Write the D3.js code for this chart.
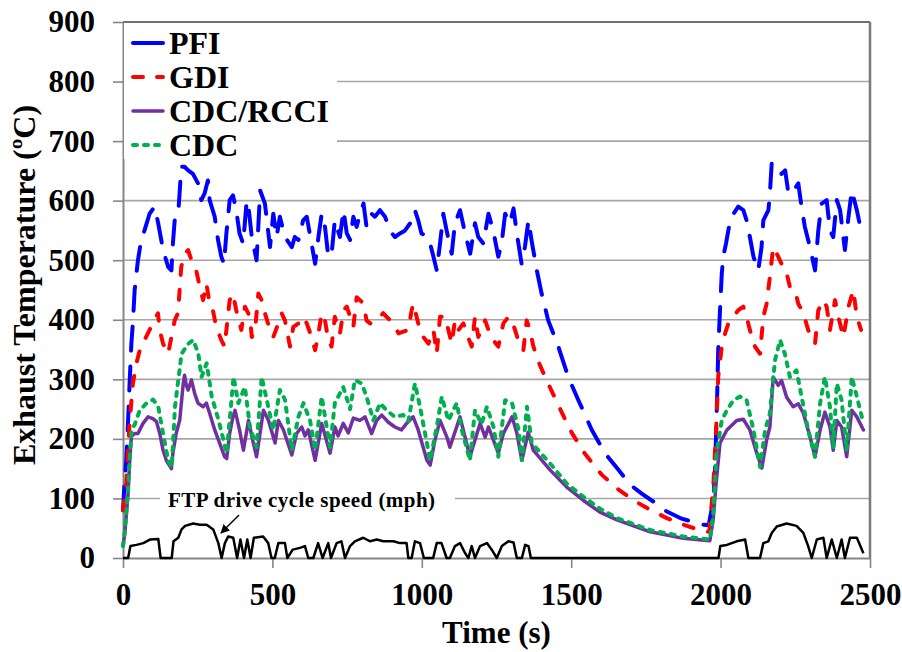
<!DOCTYPE html>
<html>
<head>
<meta charset="utf-8">
<script src="https://cdn.jsdelivr.net/npm/d3@7/dist/d3.min.js"></script>
<style>
  body { margin: 0; background: #fff; }
</style>
</head>
<body>
<div id="chart"></div>
<script>
// Axis ticks
const timeTicks = [0, 500, 1000, 1500, 2000, 2500];
const tempTicks = [0, 100, 200, 300, 400, 500, 600, 700, 800, 900];

// Legend order (= drawing order)
const seriesNames = ["PFI", "GDI", "CDC/RCCI", "CDC"];

// [time s, exhaust temperature °C]
const pfi = [[0,80],[5,125],[11,165],[17,230],[22,293],[28,360],[33,394],[39,450],[50,500],[61,534],[72,550],[89,578],[106,590],[117,564],[128,534],[134,517],[151,489],[162,483],[167,528],[173,567],[184,573],[190,617],[195,657],[206,657],[218,651],[234,645],[251,629],[262,601],[273,612],[284,634],[290,601],[307,573],[318,534],[329,506],[338,494],[346,545],[357,601],[368,609],[379,584],[390,545],[402,528],[414,600],[420,589],[431,539],[447,500],[459,617],[475,595],[492,522],[503,578],[514,539],[525,573],[542,539],[565,522],[575,539],[587,534],[603,567],[615,573],[631,528],[643,494],[654,539],[665,578],[676,556],[687,506],[698,510],[709,567],[726,539],[738,584],[749,545],[760,534],[771,573],[782,556],[793,578],[805,595],[815,556],[832,578],[843,573],[860,584],[877,573],[893,550],[910,539],[927,545],[944,550],[961,562],[977,584],[988,567],[999,545],[1022,539],[1039,506],[1050,483],[1061,528],[1072,578],[1083,550],[1100,511],[1111,562],[1128,584],[1145,545],[1162,511],[1178,562],[1189,539],[1206,528],[1223,578],[1239,550],[1256,506],[1267,528],[1279,578],[1295,562],[1307,587],[1318,545],[1334,494],[1345,522],[1357,567],[1367,534],[1385,483],[1401,444],[1423,399],[1457,355],[1490,304],[1524,265],[1569,215],[1613,176],[1658,148],[1700,122],[1736,108],[1780,93],[1820,78],[1870,66],[1940,56],[1960,55],[1976,97],[1981,148],[1985,209],[1989,282],[1992,349],[1998,416],[2004,478],[2009,506],[2018,528],[2032,567],[2043,578],[2059,590],[2076,584],[2087,567],[2098,539],[2110,506],[2126,483],[2137,522],[2143,567],[2160,584],[2165,612],[2171,662],[2188,662],[2204,645],[2216,651],[2227,612],[2238,612],[2260,629],[2271,589],[2282,556],[2299,522],[2316,483],[2327,550],[2338,595],[2355,601],[2366,550],[2377,539],[2389,601],[2400,584],[2416,517],[2428,573],[2439,617],[2456,584],[2472,545]];

const gdi = [[0,80],[11,125],[22,226],[33,293],[45,327],[56,349],[72,366],[89,383],[106,399],[117,411],[123,383],[134,360],[151,343],[162,371],[173,399],[184,411],[195,489],[206,511],[218,517],[229,500],[245,483],[257,455],[268,433],[279,461],[290,427],[301,416],[312,388],[329,366],[340,355],[357,433],[368,444],[379,416],[396,383],[408,422],[425,405],[431,371],[442,383],[453,444],[464,433],[475,411],[492,383],[503,371],[520,394],[531,411],[542,399],[559,355],[570,388],[587,394],[603,405],[615,394],[631,371],[643,349],[654,377],[665,411],[676,399],[687,366],[698,355],[709,405],[726,377],[738,416],[749,422],[760,405],[771,388],[782,438],[793,433],[805,427],[815,399],[827,394],[849,399],[871,411],[882,405],[905,394],[922,377],[938,380],[955,383],[966,416],[972,427],[988,394],[1005,371],[1022,360],[1039,383],[1050,343],[1061,405],[1078,405],[1089,383],[1100,360],[1111,399],[1123,383],[1139,394],[1150,377],[1167,355],[1178,405],[1189,371],[1212,399],[1223,383],[1239,366],[1256,355],[1273,394],[1290,405],[1301,399],[1312,383],[1329,355],[1340,349],[1351,399],[1362,383],[1373,356],[1390,330],[1412,305],[1435,280],[1468,245],[1502,210],[1546,175],[1602,140],[1653,117],[1708,97],[1764,81],[1820,67],[1875,56],[1941,45],[1962,44],[1976,125],[1987,237],[1992,304],[2004,355],[2015,377],[2026,394],[2043,405],[2059,416],[2076,422],[2087,405],[2098,383],[2115,355],[2132,343],[2143,405],[2154,427],[2165,472],[2176,522],[2188,511],[2204,494],[2216,489],[2232,455],[2249,450],[2260,427],[2277,411],[2293,383],[2316,360],[2327,416],[2344,433],[2355,422],[2366,383],[2383,433],[2394,405],[2411,371],[2428,422],[2444,450],[2456,405],[2470,383]];

const cdcRcci = [[0,20],[6,41],[17,108],[22,159],[28,204],[39,209],[50,209],[67,226],[84,237],[100,234],[112,229],[123,209],[134,181],[145,164],[162,150],[167,176],[178,209],[190,232],[201,290],[206,307],[212,290],[218,282],[229,299],[240,276],[251,260],[268,254],[279,260],[290,243],[307,215],[324,192],[340,170],[347,167],[357,209],[368,237],[375,248],[390,215],[403,181],[420,231],[433,200],[447,170],[470,248],[487,231],[509,193],[520,231],[537,215],[565,173],[581,209],[598,220],[609,205],[620,215],[643,164],[665,226],[693,176],[709,220],[720,205],[737,226],[754,210],[771,235],[793,231],[810,237],[832,209],[849,231],[866,240],[888,228],[910,220],[932,215],[949,226],[971,237],[988,215],[1017,164],[1028,156],[1044,198],[1061,231],[1084,203],[1094,186],[1128,237],[1161,170],[1195,226],[1212,203],[1223,220],[1256,176],[1273,209],[1302,237],[1318,210],[1335,164],[1356,211],[1373,181],[1429,148],[1485,119],[1540,97],[1596,77],[1653,64],[1764,44],[1875,33],[1964,29],[1975,64],[1986,131],[1998,193],[2021,215],[2054,231],[2076,233],[2098,215],[2121,176],[2138,151],[2154,198],[2165,220],[2176,304],[2193,290],[2204,298],[2221,270],[2243,254],[2260,259],[2277,243],[2299,204],[2316,170],[2333,215],[2349,245],[2366,220],[2377,181],[2389,231],[2405,220],[2422,170],[2439,248],[2456,237],[2478,215]];

const cdc = [[0,20],[6,45],[17,115],[22,165],[29,215],[40,225],[56,248],[79,260],[101,266],[118,254],[134,209],[151,164],[163,153],[174,254],[196,343],[219,360],[235,366],[252,343],[263,304],[280,327],[297,271],[320,231],[347,176],[370,304],[386,260],[408,287],[425,220],[447,186],[464,304],[481,266],[503,215],[525,282],[542,266],[565,181],[587,237],[604,260],[626,231],[643,181],[665,271],[693,186],[709,260],[737,287],[760,250],[776,299],[799,293],[815,271],[838,231],[860,260],[882,248],[910,237],[938,240],[955,230],[977,293],[994,254],[1028,164],[1050,220],[1067,271],[1089,231],[1117,260],[1134,215],[1161,164],[1178,248],[1200,225],[1218,254],[1240,220],[1256,170],[1279,265],[1302,260],[1324,215],[1335,164],[1352,254],[1368,193],[1429,159],[1485,125],[1540,103],[1596,83],[1653,67],[1764,47],[1875,36],[1964,31],[1975,70],[1986,176],[2004,231],[2021,248],[2043,265],[2065,271],[2087,265],[2110,215],[2132,153],[2149,215],[2165,243],[2182,332],[2199,366],[2215,343],[2232,304],[2254,315],[2271,271],[2293,215],[2316,170],[2333,260],[2349,304],[2366,254],[2377,186],[2389,293],[2405,265],[2422,181],[2439,304],[2456,271],[2478,226]];

// FTP drive cycle speed [time s, mph]
const speed = [[0,0],[17,0],[25,20],[45,22],[68,25],[90,31],[118,32],[126,0],[163,0],[169,28],[185,34],[196,48],[208,54],[235,58],[257,56],[280,56],[302,48],[319,25],[330,0],[341,25],[352,36],[369,34],[382,0],[393,31],[405,0],[416,31],[427,0],[438,34],[469,36],[486,25],[497,0],[508,0],[520,25],[542,25],[550,0],[568,14],[592,17],[609,20],[620,0],[637,0],[653,25],[668,0],[687,25],[696,0],[715,25],[731,28],[743,0],[760,20],[776,28],[804,34],[827,28],[849,31],[871,28],[905,28],[927,25],[949,25],[955,0],[966,0],[977,28],[994,25],[1007,0],[1038,0],[1050,25],[1066,25],[1083,0],[1094,0],[1111,20],[1128,25],[1145,8],[1156,0],[1167,20],[1178,0],[1195,20],[1218,25],[1234,14],[1251,0],[1268,20],[1290,28],[1307,26],[1318,0],[1335,0],[1346,22],[1357,20],[1365,0],[1993,0],[1999,20],[2021,22],[2054,28],[2082,31],[2093,0],[2132,0],[2143,25],[2160,28],[2171,42],[2188,53],[2221,58],[2254,54],[2277,42],[2293,20],[2305,0],[2322,31],[2344,34],[2355,0],[2372,31],[2389,0],[2405,31],[2416,0],[2433,34],[2456,34],[2478,8]];

drawChart();

function drawChart() {
    const width = 902;
    const height = 652;
    const margin = {top: 22, right: 32, bottom: 94, left: 123};
    const font = "Liberation Serif";

    const svg = d3.select("#chart").append("svg")
        .attr("width", width)
        .attr("height", height)
        .attr("font-family", font)
        .attr("font-weight", "bold");

    const x = d3.scaleLinear().domain([0, 2500]).range([margin.left, width - margin.right]);
    const y = d3.scaleLinear().domain([0, 900]).range([height - margin.bottom, margin.top]);

    // horizontal gridlines
    svg.append("g")
        .selectAll("line")
        .data(tempTicks.filter(d => d > 0 && d < 900))
        .join("line")
        .attr("x1", x(0)).attr("x2", x(2500))
        .attr("y1", d => y(d)).attr("y2", d => y(d))
        .attr("stroke", "#a6a6a6")
        .attr("stroke-width", 1.6);

    // frame: top and right
    svg.append("line")
        .attr("x1", x(0)).attr("x2", x(2500))
        .attr("y1", y(900)).attr("y2", y(900))
        .attr("stroke", "#404040").attr("stroke-width", 1.6);
    svg.append("line")
        .attr("x1", x(2500)).attr("x2", x(2500))
        .attr("y1", y(900)).attr("y2", y(0))
        .attr("stroke", "#7a7a7a").attr("stroke-width", 2.5);

    // axes
    const yAxis = svg.append("g")
        .attr("transform", `translate(${x(0)},0)`)
        .call(d3.axisLeft(y).tickValues(tempTicks).tickFormat(d3.format("d"))
            .tickSize(10).tickSizeOuter(0).tickPadding(18));
    const xAxis = svg.append("g")
        .attr("transform", `translate(0,${y(0)})`)
        .call(d3.axisBottom(x).tickValues(timeTicks).tickFormat(d3.format("d"))
            .tickSize(10).tickSizeOuter(0).tickPadding(15));
    [yAxis, xAxis].forEach(g => {
        g.attr("font-family", font).attr("font-size", 31);
        g.select(".domain").attr("stroke", "#868686").attr("stroke-width", 2);
        g.selectAll(".tick line").attr("stroke", "#868686").attr("stroke-width", 1.6);
        g.selectAll(".tick text").attr("fill", "#000");
    });

    // white boxes behind legend and annotation (they hide the gridlines)
    svg.append("rect")
        .attr("x", x(0) + 1).attr("y", y(900) + 1)
        .attr("width", 213).attr("height", 136)
        .attr("fill", "#fff");
    svg.append("rect")
        .attr("x", 160).attr("y", 487)
        .attr("width", 295).attr("height", 24)
        .attr("fill", "#fff");

    // series styles
    const style = {
        "PFI":      {data: pfi,     color: "#0000ff", dash: "24,16", legendDash: null,   width: 4},
        "GDI":      {data: gdi,     color: "#ff0000", dash: "10,15", legendDash: "10,14", width: 4},
        "CDC/RCCI": {data: cdcRcci, color: "#7030a0", dash: null,    legendDash: null,   width: 3.5},
        "CDC":      {data: cdc,     color: "#00b050", dash: "4,7",   legendDash: "4,7",  width: 4}
    };

    const line = d3.line()
        .x(d => x(d[0]))
        .y(d => y(d[1]));

    // drive cycle speed
    svg.append("path")
        .datum(speed)
        .attr("d", line)
        .attr("fill", "none")
        .attr("stroke", "#000")
        .attr("stroke-width", 2.5)
        .attr("stroke-linejoin", "round");

    seriesNames.forEach(name => {
        const s = style[name];
        svg.append("path")
            .datum(s.data)
            .attr("d", line)
            .attr("fill", "none")
            .attr("stroke", s.color)
            .attr("stroke-width", s.width)
            .attr("stroke-dasharray", s.dash)
            .attr("stroke-linecap", "round")
            .attr("stroke-linejoin", "round");
    });

    // legend
    const legend = svg.append("g");
    seriesNames.forEach((name, i) => {
        const s = style[name];
        const cy = 43 + i * 34;
        legend.append("line")
            .attr("x1", 133).attr("x2", 163)
            .attr("y1", cy).attr("y2", cy)
            .attr("stroke", s.color)
            .attr("stroke-width", s.width)
            .attr("stroke-dasharray", s.legendDash)
            .attr("stroke-linecap", "round");
        legend.append("text")
            .attr("x", 169)
            .attr("y", cy)
            .attr("dy", "0.34em")
            .attr("font-size", 32)
            .text(name);
    });

    // annotation for the speed trace
    svg.append("defs").append("marker")
        .attr("id", "arrow")
        .attr("viewBox", "0 0 10 10")
        .attr("refX", 9).attr("refY", 5)
        .attr("markerWidth", 6).attr("markerHeight", 6)
        .attr("orient", "auto")
        .append("path")
        .attr("d", "M0,0 L10,5 L0,10 z")
        .attr("fill", "#000");
    svg.append("text")
        .attr("x", 168)
        .attr("y", 507)
        .attr("font-size", 21)
        .attr("textLength", 267)
        .text("FTP drive cycle speed (mph)");
    svg.append("line")
        .attr("x1", 239).attr("y1", 515)
        .attr("x2", 221).attr("y2", 533)
        .attr("stroke", "#000")
        .attr("stroke-width", 1.5)
        .attr("marker-end", "url(#arrow)");

    // axis titles
    svg.append("text")
        .attr("transform", `translate(35,${(y(0) + y(900)) / 2 - 5}) rotate(-90)`)
        .attr("text-anchor", "middle")
        .attr("font-size", 32)
        .text("Exhaust Temperature (ºC)");
    svg.append("text")
        .attr("x", (x(0) + x(2500)) / 2)
        .attr("y", 643)
        .attr("text-anchor", "middle")
        .attr("font-size", 31)
        .text("Time (s)");
}
</script>
</body>
</html>
